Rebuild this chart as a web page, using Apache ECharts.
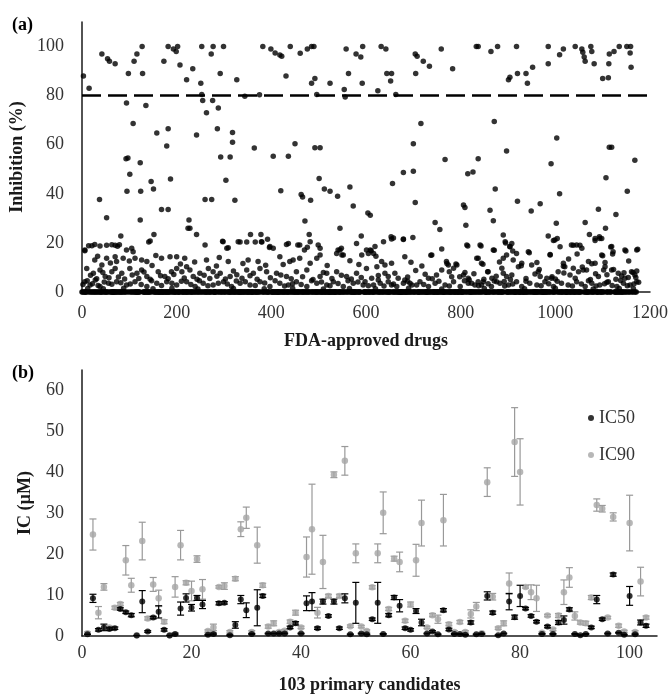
<!DOCTYPE html>
<html>
<head>
<meta charset="utf-8">
<script src="https://cdn.jsdelivr.net/npm/echarts@6/dist/echarts.min.js"></script>
<style>
  html, body { margin: 0; padding: 0; background: #fff; }
  #chart { width: 671px; height: 697px; }
</style>
</head>
<body>
<div id="chart"></div>
<script>
// (a) screening of FDA-approved drugs: drug number 0..1171,
// every drug that is not listed in activeDrugs gave 0 % inhibition
const DRUG_COUNT = 1172;
const CUTOFF = 80;

// [drug number, inhibition %]
const activeDrugs = [
  // above the cut-off
  [3, 88], [15, 83], [42, 97], [54, 95], [58, 94], [70, 93], [98, 89], [110, 94], [116, 97],
  [127, 100], [128, 89], [94, 77], [135, 76], [173, 94], [182, 100], [193, 99], [199, 98],
  [202, 100], [207, 92.5], [221, 86.5], [234, 91], [253, 100], [277, 100], [299, 100],
  [273, 97], [251, 85], [253, 80.5], [255, 78], [263, 73], [276, 78], [288, 75], [292, 89],
  [327, 86.5], [344, 79.7], [375, 80.4], [382, 100], [399, 99], [408, 97.4], [418, 96.6],
  [422, 96], [431, 88], [440, 100], [461, 97.3], [476, 99], [485, 100], [490, 100], [485, 85],
  [492, 87], [496, 80.5], [524, 85], [554, 82.5], [556, 79.4], [558, 99], [563, 89], [579, 97],
  [589, 95.7], [593, 100], [592, 85], [625, 82], [632, 100], [642, 99], [644, 89], [654, 89],
  [652, 86], [663, 80.5], [704, 97], [708, 96], [721, 94], [734, 92], [705, 89], [759, 99],
  [783, 91], [833, 100], [837, 100], [864, 98], [878, 100], [918, 100], [901, 86.5],
  [904, 87.5], [920, 89], [938, 89], [941, 85], [952, 91.6], [985, 100], [985, 93],
  [1009, 96.7], [1017, 99], [1042, 100], [1056, 99], [1058, 97.7], [1061, 95.7], [1063, 94],
  [1075, 100], [1077, 98], [1082, 93], [1100, 87], [1112, 87.3], [1113, 93], [1114, 97],
  [1124, 98], [1135, 100], [1151, 100], [1159, 100], [1158, 97.4], [1160, 91.6],
  // 20 - 75 %
  [108, 68.6], [93, 54.3], [97, 54.6], [101, 48], [123, 52.7], [95, 41], [124, 41], [146, 45],
  [151, 42], [37, 37.7], [52, 30.2], [123, 29.3], [82, 22.8], [141, 20.4], [152, 23.4],
  [168, 33.6], [182, 33.6], [158, 64.8], [182, 66.5], [179, 59.5], [187, 46], [242, 64],
  [286, 66.5], [260, 37.7], [274, 37.7], [304, 45.5], [293, 55], [226, 29.3], [224, 26],
  [228, 26], [242, 23.4], [297, 20.7], [716, 68.6], [700, 60.4], [767, 54], [679, 48.7],
  [700, 49.2], [656, 44.2], [704, 36.5], [318, 65], [318, 61], [313, 55], [323, 37.4],
  [364, 58.7], [404, 55.3], [436, 55.3], [450, 60.4], [492, 58.8], [503, 58.8], [501, 46.2],
  [512, 42], [524, 41], [540, 39], [566, 42.8], [573, 35], [604, 32.2], [609, 31.3],
  [420, 41.2], [463, 39.7], [466, 38.7], [483, 37.4], [471, 28.9], [480, 23.4], [545, 26],
  [590, 22.8], [746, 28.3], [756, 25.5], [679, 21.4], [699, 22.2], [653, 22.5], [658, 22],
  [356, 23.4], [378, 23.4], [334, 20.4], [348, 20.4], [366, 20.4], [380, 20.4], [392, 21.5],
  [871, 69.5], [1003, 62.7], [1114, 59], [1119, 59], [897, 57.4], [837, 54.3], [815, 48.2],
  [826, 48.9], [991, 52.3], [1107, 46.5], [1168, 53.7], [873, 42], [1009, 40], [1152, 41],
  [920, 37], [968, 36], [949, 33], [806, 35.4], [809, 34.4], [862, 33.3], [869, 29],
  [811, 27.2], [1091, 33.7], [1128, 31.6], [1002, 28], [1063, 28.3], [1106, 26], [890, 23.2],
  [985, 22.8], [996, 21], [1004, 21.8], [1072, 23.4], [1084, 21], [1093, 22.5], [1098, 21.8],
  // 10 - 20 %
  [6, 16.8], [14, 18.8], [21, 18.8], [52, 19], [70, 19], [75, 18.6], [27, 19.4], [38, 18.7],
  [63, 19.3], [79, 19.2], [105, 17.8], [108, 16.4], [94, 17.1], [144, 20.8], [260, 19.1],
  [298, 20.5], [306, 17.8], [309, 18], [330, 20.5], [379, 20.5], [397, 18.5], [404, 17.8],
  [396, 18.1], [432, 19.4], [436, 19.8], [456, 19.1], [460, 19.1], [470, 17.1], [476, 18.2],
  [482, 20.5], [499, 19.1], [503, 17.8], [541, 17.1], [548, 17.8], [545, 17.1], [549, 15.1],
  [580, 19.8], [591, 15.1], [601, 17.1], [611, 16.8], [616, 15.7], [621, 14.6], [737, 15],
  [6, 17.1], [27, 13], [42, 11], [52, 13.7], [70, 14.4], [73, 12.4], [87, 13.7], [112, 13.7],
  [126, 13], [137, 12.4], [168, 13.7], [186, 14.4], [200, 14.4], [217, 13.7], [221, 10.3],
  [263, 13], [309, 12.4], [351, 13], [372, 12.4], [418, 14.4], [439, 12.4], [446, 13],
  [460, 13.7], [482, 11.7], [496, 13.7], [503, 15.1], [538, 15.7], [552, 15.1],
  [609, 17.1], [605, 15.7], [623, 10.3], [633, 12.4], [640, 11], [654, 11.7], [637, 20.5],
  [654, 21.6], [679, 21.6], [619, 18.5], [682, 14.4], [739, 15.1], [770, 12.4], [774, 11],
  [792, 11], [813, 19.1], [841, 19.1], [869, 17.1], [837, 13.7], [844, 11.7], [890, 13.7],
  [897, 15.1], [904, 18.5], [911, 13], [918, 15.7], [943, 16.4], [894, 20.5], [908, 19.8],
  [929, 11.7], [950, 11], [989, 15.1], [999, 21.2], [1017, 11.7], [1034, 19.1], [1045, 19.1],
  [1056, 17.8], [1070, 12.4], [1084, 11.7], [1084, 21.8], [1094, 21.8], [1098, 15.1],
  [1119, 18.5], [1122, 16.4], [1147, 17.1], [1172, 17.1], [815, 18.7], [843, 18.7],
  [871, 17], [895, 20], [904, 18.4], [910, 16.7], [1038, 19], [1052, 19], [1046, 15.5],
  [989, 15.3], [1010, 18.4], [1117, 18.3], [1121, 15.5], [1149, 16.7], [1174, 17.4],
  [945, 16], [961, 12], [834, 13.7], [847, 11.3], [771, 11.6], [790, 11.4], [1077, 11.5],
  [1100, 14.8], [1105, 12], [1057, 10.2], [1017, 10.5], [928, 10.7], [785, 9.7],
  [33, 14.6], [60, 11.8], [100, 12.6], [148, 10.8], [156, 14.9], [208, 11.4], [238, 12.2],
  [284, 10.6], [290, 14.1], [340, 11.6], [388, 10.9], [425, 11.2], [518, 10.8], [566, 12.7],
  [585, 11.2], [695, 12.1], [718, 10.6], [760, 17.5], [882, 12.2], [1028, 13.4], [1155, 12.6],
  // 5 - 10 %
  [10, 9.6], [24, 7.6], [38, 9], [49, 6.3], [63, 8.3], [70, 9.6], [84, 7.6], [101, 9.6],
  [116, 7.6], [126, 9], [137, 6.3], [161, 8.3], [175, 6.3], [189, 8.3], [200, 9.6], [211, 8.3],
  [228, 9], [235, 6.3], [249, 7.6], [267, 9.6], [277, 8.3], [292, 7.6], [313, 6.3], [327, 7],
  [348, 9], [362, 7.6], [376, 9.6], [390, 8.3], [411, 7.6], [432, 6.3], [453, 8.3], [475, 9],
  [503, 6.3], [517, 7.6], [538, 8.3], [559, 6.3], [580, 7.6], [601, 9.6], [640, 7.6],
  [647, 6.3], [661, 7.6], [612, 5.6], [668, 5.6], [725, 7.2], [732, 5.6], [749, 6.9], [760, 9],
  [806, 6.9], [809, 7.9], [816, 5.6], [858, 8.3], [866, 5.6], [887, 9.7], [890, 7.6],
  [897, 6.3], [908, 6.9], [922, 10.3], [964, 8.3], [968, 6.3], [966, 9.2], [982, 5.6],
  [992, 5.6], [1006, 8.3], [1020, 10.3], [1031, 6.9], [1038, 9.7], [1049, 8.3], [1059, 9],
  [1091, 6.3], [1105, 10.3], [1119, 9], [1133, 7.6], [1147, 5.6], [1161, 8.3], [1168, 6.9],
  [857, 8.3], [776, 8.3], [798, 6.2], [1018, 7.7], [993, 6.2], [1066, 9], [1102, 9],
  [1109, 7], [1123, 9.2], [1140, 6.5], [1145, 7.8], [1154, 5.9], [1164, 7.9], [1172, 8.6],
  [1170, 5.9],
  [18, 6.8], [31, 5.4], [44, 7.9], [57, 5.8], [77, 6.1], [90, 5.3], [106, 6.9], [120, 5.5],
  [131, 8.1], [144, 5.2], [166, 6.6], [182, 5.4], [194, 7.1], [216, 5.7], [243, 5.2],
  [258, 6.8], [270, 5.5], [285, 6.4], [303, 5.3], [320, 8.6], [338, 5.6], [355, 6.6],
  [370, 5.2], [398, 5.8], [420, 6.9], [442, 5.4], [466, 6.2], [488, 5.1], [510, 7.9],
  [528, 5.5], [548, 6.8], [569, 5.3], [590, 5.9], [626, 6.7], [688, 6.1], [705, 8.8],
  [740, 5.4], [781, 6.2], [828, 7.4], [849, 5.2], [875, 6.4], [938, 5.5], [957, 7.3],
  [1000, 5.3], [1042, 5.6], [1074, 5.1], [1085, 7.4], [1128, 5.2],
  // below 5 %
  [6, 4.2], [17, 2.9], [28, 4.9], [38, 2.2], [56, 3.6], [73, 4.2], [94, 2.9], [112, 4.2],
  [137, 2.2], [158, 3.6], [179, 4.2], [200, 2.9], [221, 4.2], [239, 2.2], [256, 3.6],
  [277, 2.9], [299, 4.2], [316, 2.2], [334, 3.6], [355, 2.9], [376, 4.2], [397, 2.2],
  [418, 3.6], [436, 2.9], [453, 4.2], [475, 2.2], [496, 3.6], [517, 2.9], [531, 4.2],
  [552, 2.2], [573, 3.6], [594, 2.9], [598, 4.2], [616, 2.9], [630, 3.6], [647, 4.2],
  [665, 2.2], [679, 3.6], [697, 2.9], [714, 4.2], [732, 2.2], [746, 3.6], [767, 2.9],
  [785, 4.2], [799, 2.2], [816, 3.6], [830, 2.9], [848, 4.2], [865, 2.2], [883, 3.6],
  [901, 2.9], [918, 4.2], [929, 2.2], [946, 3.6], [961, 2.9], [978, 4.2], [996, 2.2],
  [1013, 3.6], [1027, 2.9], [1045, 4.2], [1063, 2.2], [1077, 3.6], [1094, 2.9], [1112, 4.2],
  [1130, 2.2], [1144, 3.6], [1158, 2.9], [1172, 4.2], [626, 4.9], [654, 2.9], [682, 4.9],
  [693, 3.6], [707, 2.9], [823, 3.6], [837, 4.2], [844, 2.9], [876, 4.2], [818, 5],
  [1109, 4], [1176, 4], [871, 4.5], [892, 4.3], [905, 5.1],
  [2, 3.1], [11, 4.6], [22, 3.4], [34, 2.6], [47, 4.1], [63, 3.2], [82, 3.8], [102, 3.3],
  [125, 3.1], [147, 4.6], [168, 2.6], [190, 3.6], [210, 4.4], [230, 3.1], [248, 4.6],
  [266, 2.5], [288, 3.6], [307, 3.3], [326, 4.5], [345, 4.2], [366, 2.6], [386, 3.7],
  [408, 4.6], [428, 2.4], [445, 3.4], [463, 3.1], [485, 4.6], [506, 4.1], [524, 2.5],
  [541, 3.5], [562, 4.6], [583, 4.1], [605, 2.5], [638, 2.4], [658, 3.3], [688, 4.4],
  [722, 3.1], [754, 4.4], [776, 2.4], [808, 4.6], [838, 2.5], [858, 3.4], [893, 2.4],
  [910, 3.3], [938, 4.4], [970, 2.5], [986, 3.4], [1004, 4.4], [1036, 2.4], [1055, 3.3],
  [1070, 4.6], [1086, 2.4], [1104, 3.4], [1120, 2.6], [1138, 4.7], [1152, 2.5], [1166, 3.3],
  [12, 1.4], [45, 1.3], [88, 1.5], [150, 1.3], [190, 1.5], [245, 1.2], [320, 1.4], [385, 1.3],
  [445, 1.5], [510, 1.2], [565, 1.4], [620, 1.3], [690, 1.5], [760, 1.2], [850, 1.4],
  [935, 1.3], [1000, 1.5], [1080, 1.2], [1135, 1.4], [1165, 1.3],
];

// (b) 103 primary candidates, IC in µM with error bar half-widths
const candidates = [
  1, 2, 3, 4, 5, 6, 7, 8, 9, 10, 11, 12, 13, 14, 15, 16, 17, 18, 19, 20, 21, 22, 23, 24, 25,
  26, 27, 28, 29, 30, 31, 32, 33, 34, 35, 36, 37, 38, 39, 40, 41, 42, 43, 44, 45, 46, 47, 48,
  49, 50, 51, 52, 53, 54, 55, 56, 57, 58, 59, 60, 61, 62, 63, 64, 65, 66, 67, 68, 69, 70, 71,
  72, 73, 74, 75, 76, 77, 78, 79, 80, 81, 82, 83, 84, 85, 86, 87, 88, 89, 90, 91, 92, 93, 94,
  95, 96, 97, 98, 99, 100, 101, 102, 103,
];
const ic50 = [
  0.4, 9.2, 1.5, 2.1, 1.7, 1.9, 6.6, 5.8, 5.1, 0.1, 8.4, 1.1, 4.5, 5.9, 1.5, 0.1, 0.5, 6.7,
  9.3, 6.9, 9.3, 7.7, 0.3, 0.5, 8.0, 8.1, 0.2, 2.7, 8.9, 6.3, 0.5, 6.9, 9.8, 0.6, 0.6, 0.6,
  0.6, 2.1, 3.1, 0.6, 8.0, 8.4, 1.9, 8.4, 4.9, 8.4, 1.9, 9.2, 0.4, 8.1, 0.6, 0.4, 4.1, 8.1,
  0.5, 5.1, 9.4, 7.4, 1.9, 1.5, 6.1, 3.3, 0.6, 1.1, 0.4, 6.3, 1.6, 0.5, 0.5, 0.3, 3.3, 0.4,
  0.5, 9.8, 5.7, 0.2, 0.6, 8.4, 4.6, 9.8, 6.7, 4.9, 3.5, 0.5, 2.3, 0.5, 3.3, 3.9, 6.5, 0.5,
  0.2, 0.5, 2.1, 8.9, 4.1, 0.6, 15.0, 0.8, 0.3, 9.8, 0.4, 3.3, 2.5,
];
const ic50Err = [
  0, 1.0, 0.3, 0.8, 0.3, 0.3, 0.3, 0.3, 0.4, 0, 2.7, 0.2, 0.3, 1.5, 0.3, 0, 0.2, 1.6,
  1.0, 0.8, 0.6, 1.0, 0.1, 0.2, 0.4, 0.3, 0.1, 0.8, 1.0, 1.8, 0.1, 4.4, 0.4, 0.1, 0.1, 0.1,
  0.1, 0.3, 0.4, 0.1, 1.8, 2.2, 0.3, 0.6, 0.3, 0.6, 0.3, 1.1, 0.1, 5.0, 0.1, 0.1, 0.3, 5.0,
  0.1, 0.4, 0.5, 1.5, 0.3, 0.3, 0.6, 0.8, 0.1, 0.2, 0.1, 0.4, 0.3, 0.1, 0.1, 0.1, 0.4, 0.1,
  0.1, 1.0, 0.4, 0.1, 0.1, 2.0, 0.5, 2.6, 0.3, 0.3, 0.3, 0.1, 0.3, 0.1, 0.5, 1.0, 0.4, 0.1,
  0.1, 0.1, 0.3, 1.0, 0.3, 0.1, 0.4, 0.1, 0.1, 2.3, 0.1, 0.6, 0.4,
];
const ic90 = [
  0.7, 24.8, 5.7, 12.0, 2.1, 6.9, 7.8, 18.5, 12.4, 0.2, 23.2, 4.3, 12.6, 9.2, 3.5, 0.2, 12.0,
  22.2, 13.0, 11.0, 18.8, 11.4, 1.2, 2.1, 12.0, 12.2, 1.0, 14.0, 26.1, 28.9, 1.0, 22.2, 12.4,
  2.3, 3.1, 1.0, 1.3, 3.5, 5.7, 2.1, 19.3, 26.1, 5.7, 18.1, 9.8, 39.4, 9.8, 42.8, 2.4, 20.2,
  2.3, 1.2, 11.9, 20.2, 30.1, 6.6, 18.9, 18.1, 3.7, 7.7, 18.5, 27.6, 2.1, 5.1, 4.1, 28.3, 2.9,
  1.0, 3.4, 1.0, 5.4, 7.2, 0.7, 37.6, 9.6, 1.9, 3.1, 12.8, 47.4, 40.1, 12.0, 10.7, 9.2, 0.8,
  5.0, 1.6, 5.0, 10.7, 14.3, 4.9, 3.3, 3.1, 9.4, 32.0, 31.1, 4.5, 29.1, 2.5, 1.1, 27.6, 1.0,
  13.3, 4.5,
];
const ic90Err = [
  0.3, 3.8, 1.5, 0.8, 0.3, 0.4, 0.4, 3.6, 1.7, 0.1, 4.6, 0.4, 1.7, 2.0, 0.5, 0.1, 2.5,
  3.6, 0.5, 2.4, 0.8, 2.4, 0.3, 0.8, 0.3, 0.8, 0.3, 0.5, 1.8, 2.6, 0.3, 4.4, 0.5,
  0.4, 0.6, 0.3, 0.3, 0.4, 0.6, 0.3, 4.9, 11.0, 1.3, 6.5, 0.4, 0.7, 0.4, 3.5, 0.3, 2.3,
  0.3, 0.3, 0.4, 2.3, 5.1, 0.4, 0.6, 2.4, 0.4, 0.6, 3.9, 5.6, 0.3, 0.4, 1.0, 6.3, 0.4,
  0.3, 0.4, 0.3, 1.0, 1.0, 0.2, 3.5, 0.8, 0.3, 0.6, 2.6, 8.4, 8.1, 0.3, 1.8, 3.2, 0.2,
  0.3, 0.3, 0.5, 3.0, 2.4, 1.0, 0.4, 0.5, 0.5, 1.5, 0.8, 0.3, 1.0, 0.4, 0.3, 6.8, 0.3,
  3.5, 0.4,
];

const FONT = 'Liberation Serif';
const GRAY = '#a5a5a5';

// drugs with 0 % inhibition make the thick band on the axis
const listed = new Set(activeDrugs.map((d) => d[0]));
const screenData = [];
for (let i = 0; i < DRUG_COUNT; i += 1) {
  if (!listed.has(i)) screenData.push([i, 0]);
}
activeDrugs.forEach((d) => screenData.push(d));

const pointsOf = (vals) => candidates.map((c, i) => [c, vals[i]]);
const barsOf = (vals, errs) => candidates.map((c, i) => [c, vals[i] - errs[i], vals[i] + errs[i]]);

function errorBar(color) {
  return (params, api) => {
    const x = api.value(0);
    const lo = api.coord([x, api.value(1)]);
    const hi = api.coord([x, api.value(2)]);
    const cap = 3.5;
    const style = { stroke: color, lineWidth: 1.2, fill: null };
    return {
      type: 'group',
      children: [
        { type: 'line', shape: { x1: lo[0], y1: lo[1], x2: hi[0], y2: hi[1] }, style },
        { type: 'line', shape: { x1: lo[0] - cap, y1: lo[1], x2: lo[0] + cap, y2: lo[1] }, style },
        { type: 'line', shape: { x1: hi[0] - cap, y1: hi[1], x2: hi[0] + cap, y2: hi[1] }, style },
      ],
    };
  };
}

const axisText = { fontFamily: FONT, fontSize: 18, color: '#333' };
const nameText = { fontFamily: FONT, fontSize: 18, fontWeight: 'bold', color: '#1a1a1a' };
const axisLine = { show: true, lineStyle: { color: '#1a1a1a', width: 1.5 } };
const every = (step) => (v) => (v % step === 0 ? String(v) : '');

const option = {
  animation: false,
  backgroundColor: '#fff',
  graphic: [
    { type: 'text', left: 12, top: 16, style: { text: '(a)', ...nameText } },
    { type: 'text', left: 12, top: 364, style: { text: '(b)', ...nameText } },
  ],
  legend: {
    data: ['IC50', 'IC90'],
    orient: 'vertical',
    left: 588,
    top: 409,
    padding: 0,
    itemGap: 19,
    itemWidth: 6,
    itemHeight: 6,
    icon: 'circle',
    textStyle: { fontFamily: FONT, fontSize: 18, color: '#333' },
  },
  grid: [
    { left: 82, top: 22, width: 568, height: 270 },
    { left: 82, top: 370, width: 575, height: 266 },
  ],
  xAxis: [
    {
      gridIndex: 0, type: 'value', min: 0, max: 1200, interval: 200,
      name: 'FDA-approved drugs', nameLocation: 'middle', nameGap: 40, nameTextStyle: nameText,
      axisLine, axisTick: { show: false }, splitLine: { show: false },
      axisLabel: { ...axisText, margin: 12, formatter: every(200) },
    },
    {
      gridIndex: 1, type: 'value', min: 0, max: 105, interval: 20,
      name: '103 primary candidates', nameLocation: 'middle', nameGap: 40, nameTextStyle: nameText,
      axisLine, axisTick: { show: false }, splitLine: { show: false },
      axisLabel: { ...axisText, margin: 8, formatter: every(20) },
    },
  ],
  yAxis: [
    {
      gridIndex: 0, type: 'value', min: 0, max: 110, interval: 20,
      name: 'Inhibition (%)', nameLocation: 'middle', nameGap: 52, nameTextStyle: nameText,
      axisLine, axisTick: { show: false }, splitLine: { show: false },
      axisLabel: { ...axisText, margin: 18, formatter: every(20) },
    },
    {
      gridIndex: 1, type: 'value', min: 0, max: 65, interval: 10,
      name: 'IC (µM)', nameLocation: 'middle', nameGap: 48, nameTextStyle: nameText,
      axisLine, axisTick: { show: false }, splitLine: { show: false },
      axisLabel: { ...axisText, margin: 18, formatter: every(10) },
    },
  ],
  series: [
    {
      name: 'Inhibition',
      type: 'scatter',
      xAxisIndex: 0,
      yAxisIndex: 0,
      symbolSize: 5.5,
      itemStyle: { color: '#000' },
      data: screenData,
      markLine: {
        silent: true,
        symbol: 'none',
        label: { show: false },
        lineStyle: { color: '#000', width: 2.5, type: [19, 7] },
        data: [{ yAxis: CUTOFF }],
      },
    },
    {
      type: 'custom',
      xAxisIndex: 1,
      yAxisIndex: 1,
      renderItem: errorBar('#999'),
      data: barsOf(ic90, ic90Err),
      z: 1,
    },
    {
      name: 'IC90',
      type: 'scatter',
      xAxisIndex: 1,
      yAxisIndex: 1,
      symbolSize: 6.5,
      itemStyle: { color: GRAY },
      data: pointsOf(ic90),
      z: 2,
    },
    {
      type: 'custom',
      xAxisIndex: 1,
      yAxisIndex: 1,
      renderItem: errorBar('#000'),
      data: barsOf(ic50, ic50Err),
      z: 3,
    },
    {
      name: 'IC50',
      type: 'scatter',
      xAxisIndex: 1,
      yAxisIndex: 1,
      symbolSize: 6,
      itemStyle: { color: '#000' },
      data: pointsOf(ic50),
      z: 4,
    },
  ],
};

const chart = echarts.init(document.getElementById('chart'));
chart.setOption(option);
</script>
</body>
</html>
